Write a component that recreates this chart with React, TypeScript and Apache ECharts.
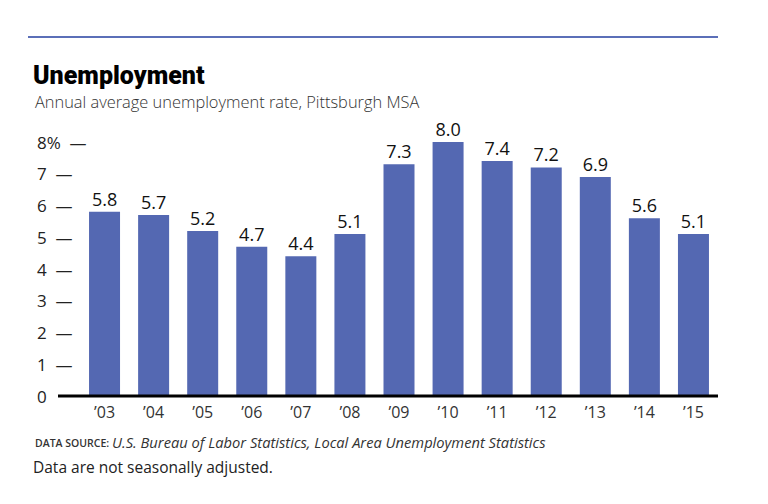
import React, { useEffect, useRef } from "react";
import * as echarts from "echarts";

const years = ["\u201903", "\u201904", "\u201905", "\u201906", "\u201907", "\u201908", "\u201909", "\u201910", "\u201911", "\u201912", "\u201913", "\u201914", "\u201915"];
const rates = [5.8, 5.7, 5.2, 4.7, 4.4, 5.1, 7.3, 8.0, 7.4, 7.2, 6.9, 5.6, 5.1];
const yTicks = [0, 1, 2, 3, 4, 5, 6, 7, 8];

const titleText = "Unemployment";
const subtitleText = "Annual average unemployment rate, Pittsburgh MSA";
const sourceLabel = "DATA SOURCE:";
const sourceText = "U.S. Bureau of Labor Statistics, Local Area Unemployment Statistics";
const noteText = "Data are not seasonally adjusted.";

const FONT = "'Open Sans', 'Noto Sans', sans-serif";

export default function App() {
  const ref = useRef<HTMLDivElement>(null);
  useEffect(() => {
    const chart = echarts.init(ref.current!, null, { renderer: "svg" });
    const option: any = {
      animation: false,
      backgroundColor: "#ffffff",
      grid: { left: 80, right: 50, top: 142, bottom: 108, containLabel: false },
      xAxis: {
        type: "category",
        data: years,
        axisLine: { show: false },
        axisTick: { show: false },
        axisLabel: { color: "#333", fontSize: 16, fontFamily: FONT, margin: 8 },
      },
      yAxis: {
        type: "value",
        min: yTicks[0],
        max: yTicks[yTicks.length - 1],
        interval: 1,
        splitLine: { show: false },
        axisLine: { show: false },
        axisTick: { show: false },
        axisLabel: {
          color: "#222",
          fontSize: 17,
          fontFamily: FONT,
          align: "left",
          margin: 43,
          formatter: (v: number) => (v === 0 ? "0" : v === 8 ? "8%  \u2014" : v + "  \u2014"),
        },
      },
      series: [
        {
          type: "bar",
          data: rates,
          barWidth: 31,
          itemStyle: { color: "#5468b2" },
          label: {
            show: true,
            position: "top",
            distance: 4,
            color: "#111",
            fontSize: 18,
            fontFamily: FONT,
            formatter: (p: any) => Number(p.value).toFixed(1),
          },
        },
      ],
      graphic: [
        { type: "line", shape: { x1: 28, y1: 37, x2: 718, y2: 37 }, style: { stroke: "#5b6fb8", lineWidth: 2 } },
        {
          type: "text",
          x: 33,
          y: 63,
          style: { text: titleText, fontSize: 25, fontWeight: 900, fontFamily: "'Roboto', sans-serif", fill: "#000" },
        },
        {
          type: "text",
          x: 35,
          y: 93,
          style: { text: subtitleText, fontSize: 16.4, fontWeight: 300, fontFamily: FONT, fill: "#333" },
        },
        {
          type: "text",
          x: 35,
          y: 437,
          style: { text: sourceLabel, fontSize: 10.5, fontWeight: 600, fontFamily: FONT, fill: "#333" },
        },
        {
          type: "text",
          x: 112,
          y: 434,
          style: { text: sourceText, fontSize: 14.7, fontStyle: "italic", fontFamily: FONT, fill: "#333" },
        },
        {
          type: "text",
          x: 33,
          y: 459,
          style: { text: noteText, fontSize: 15.5, fontFamily: FONT, fill: "#222" },
        },
      ],
    };
    chart.setOption(option);
    const y0 = chart.convertToPixel({ yAxisIndex: 0 }, yTicks[0]) as number;
    chart.setOption({
      graphic: [
        ...option.graphic,
        { type: "line", z: 10, shape: { x1: 58, y1: y0, x2: 718, y2: y0 }, style: { stroke: "#000", lineWidth: 3 } },
      ],
    });
    return () => chart.dispose();
  }, []);
  return <div ref={ref} style={{ width: 768, height: 504, position: "absolute", left: 0, top: 0 }} />;
}
